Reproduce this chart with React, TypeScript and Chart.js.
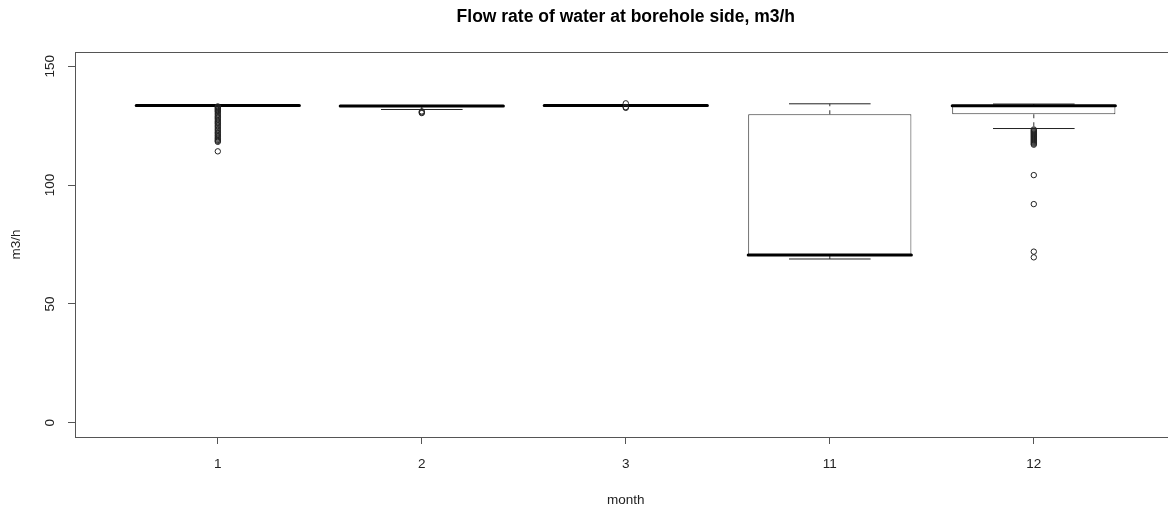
import React, { useEffect, useRef } from "react";
import { Chart, registerables } from "chart.js";

Chart.register(...registerables);

// ---- data ----
const months = ["1", "2", "3", "11", "12"];
const lowWhisker = [133.5, 131.8, 133.5, 68.9, 123.8];
const q1 = [133.4, 133.0, 133.4, 70.4, 129.8];
const median = [133.5, 133.3, 133.5, 70.6, 133.4];
const q3 = [133.6, 133.5, 133.6, 129.8, 133.6];
const highWhisker = [133.6, 133.5, 133.6, 134.2, 134.1];

const outliersMonth1 = [
  133.1, 132.8, 132.4, 132.0, 131.6, 131.2, 130.8, 130.2, 129.6, 129.0, 128.5,
  128.0, 127.4, 126.8, 126.3, 125.8, 125.2, 124.6, 124.0, 123.4, 122.8, 122.2,
  121.7, 121.1, 120.6, 120.0, 119.5, 119.0, 118.6, 118.2, 114.2,
];
const outliersMonth2 = [131.0, 130.6, 130.3];
const outliersMonth3 = [134.4, 132.8, 132.5];
const outliersMonth11: number[] = [];
const outliersMonth12 = [
  123.4, 123.0, 122.6, 122.2, 121.8, 121.4, 121.0, 120.6, 120.2, 119.8, 119.4,
  119.0, 118.6, 118.2, 117.8, 117.4, 117.0, 104.2, 92.0, 72.0, 69.6,
];
const outliers = [
  outliersMonth1,
  outliersMonth2,
  outliersMonth3,
  outliersMonth11,
  outliersMonth12,
];

const yTicks = [0, 50, 100, 150];
const titleText = "Flow rate of water at borehole side, m3/h";
const xTitle = "month";
const yTitle = "m3/h";

const FONT = '"Liberation Sans", Arial, Helvetica, sans-serif';
const LABEL_SIZE = 13.5;

export default function App() {
  const ref = useRef<HTMLCanvasElement | null>(null);

  useEffect(() => {
    if (!ref.current) return;

    const boxData = months.map((_, i) => ({ x: i + 1, y: [q1[i], q3[i]] }));

    const medianData: any[] = [];
    const stapleData: any[] = [];
    const whiskerData: any[] = [];
    months.forEach((_, i) => {
      const x = i + 1;
      medianData.push({ x: x - 0.4, y: median[i] }, { x: x + 0.4, y: median[i] }, { x: x + 0.4, y: null });
      stapleData.push({ x: x - 0.2, y: highWhisker[i] }, { x: x + 0.2, y: highWhisker[i] }, { x: x + 0.2, y: null });
      stapleData.push({ x: x - 0.2, y: lowWhisker[i] }, { x: x + 0.2, y: lowWhisker[i] }, { x: x + 0.2, y: null });
      whiskerData.push({ x, y: q3[i] }, { x, y: highWhisker[i] }, { x, y: null });
      whiskerData.push({ x, y: q1[i] }, { x, y: lowWhisker[i] }, { x, y: null });
    });
    const outlierData = outliers.flatMap((vals, i) => vals.map((v) => ({ x: i + 1, y: v })));

    const framePlugin = {
      id: "frame",
      afterDraw(chart: any) {
        const { ctx, chartArea } = chart;
        const { left, top, right, bottom } = chartArea;
        ctx.save();
        ctx.strokeStyle = "#555";
        ctx.lineWidth = 1;
        ctx.strokeRect(Math.round(left) + 0.5, Math.round(top) + 0.5, Math.round(right - left), Math.round(bottom - top));
        ctx.restore();
      },
    };

    const chart = new Chart(ref.current, {
      type: "bar",
      data: {
        datasets: [
          {
            type: "bar",
            data: boxData as any,
            backgroundColor: "#ffffff",
            borderColor: "#333",
            borderWidth: 1,
            borderSkipped: false,
            barPercentage: 0.8,
            categoryPercentage: 1,
            order: 5,
          } as any,
          {
            type: "line",
            data: whiskerData,
            borderColor: "#333",
            borderWidth: 1,
            borderDash: [4, 4],
            pointRadius: 0,
            spanGaps: false,
            fill: false,
            order: 4,
          } as any,
          {
            type: "line",
            data: stapleData,
            borderColor: "#222",
            borderWidth: 1,
            pointRadius: 0,
            spanGaps: false,
            fill: false,
            order: 3,
          } as any,
          {
            type: "line",
            data: medianData,
            borderColor: "#000",
            borderWidth: 3,
            borderCapStyle: "round",
            pointRadius: 0,
            spanGaps: false,
            fill: false,
            order: 2,
          } as any,
          {
            type: "scatter",
            data: outlierData,
            borderColor: "#222",
            backgroundColor: "rgba(0,0,0,0)",
            pointRadius: 2.7,
            pointBorderWidth: 1,
            pointStyle: "circle",
            order: 1,
          } as any,
        ],
      },
      options: {
        responsive: false,
        animation: false,
        events: [],
        layout: { padding: { left: 0, top: 0, right: 1200 - 1176.6, bottom: 0 } },
        plugins: {
          legend: { display: false },
          tooltip: { enabled: false },
          title: {
            display: true,
            text: titleText,
            fullSize: false,
            color: "#000",
            font: { family: FONT, size: 17.5, weight: "bold", lineHeight: 1.2 },
            padding: { top: 7, bottom: 24 },
          },
        },
        scales: {
          x: {
            type: "linear",
            min: 0.3,
            max: 5.7,
            offset: false,
            afterBuildTicks: (s: any) => {
              s.ticks = months.map((_, i) => ({ value: i + 1 }));
            },
            afterFit: (s: any) => {
              s.height = 73;
            },
            grid: {
              display: true,
              drawOnChartArea: false,
              drawTicks: true,
              tickLength: 7,
              color: "#555",
              offset: false,
            },
            border: { display: false },
            ticks: {
              autoSkip: false,
              maxRotation: 0,
              minRotation: 0,
              padding: 11.9,
              color: "#222",
              font: { family: FONT, size: LABEL_SIZE },
              callback: (_v: any, idx: number) => months[idx],
            },
            title: {
              display: true,
              text: xTitle,
              color: "#222",
              font: { family: FONT, size: LABEL_SIZE, lineHeight: 1.2 },
              padding: { top: 0, bottom: 2 },
            },
          },
          y: {
            type: "linear",
            min: -6,
            max: 156,
            afterBuildTicks: (s: any) => {
              s.ticks = yTicks.map((v) => ({ value: v }));
            },
            afterFit: (s: any) => {
              s.width = 75;
            },
            grid: {
              display: true,
              drawOnChartArea: false,
              drawTicks: true,
              tickLength: 7,
              color: "#555",
            },
            border: { display: false },
            ticks: {
              minRotation: 90,
              maxRotation: 90,
              crossAlign: "center",
              padding: 6.5,
              color: "#222",
              font: { family: FONT, size: LABEL_SIZE },
            },
            title: {
              display: true,
              text: yTitle,
              color: "#222",
              font: { family: FONT, size: LABEL_SIZE, lineHeight: 1.2 },
              padding: { top: 8, bottom: 0 },
            },
          },
        },
      } as any,
      plugins: [framePlugin],
    });

    return () => chart.destroy();
  }, []);

  return (
    <div
      style={{
        position: "fixed",
        left: 0,
        top: 0,
        width: 1168,
        height: 510,
        overflow: "hidden",
        background: "#fff",
      }}
    >
      <canvas
        ref={ref}
        width={1200}
        height={510}
        style={{ display: "block", width: 1200, height: 510 }}
      />
    </div>
  );
}
